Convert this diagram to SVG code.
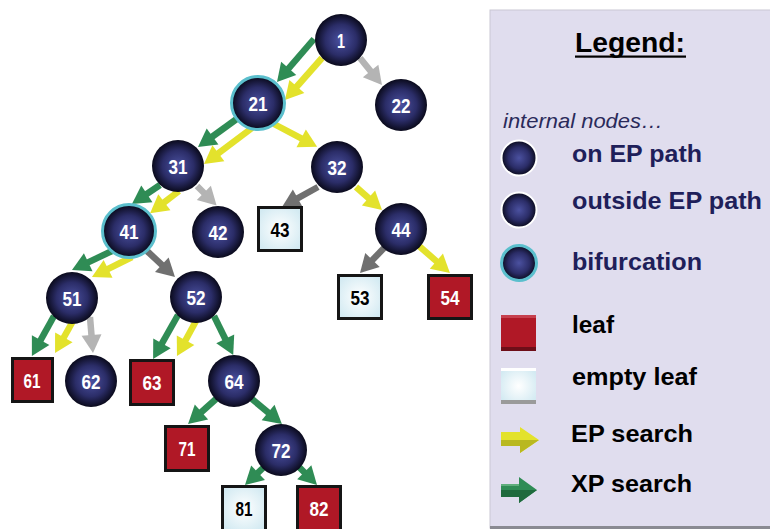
<svg xmlns="http://www.w3.org/2000/svg" width="770" height="529" viewBox="0 0 770 529">
<style>
.edge{fill:none;stroke-width:6.5;stroke-linecap:butt}
.g{stroke:#2f8c55;marker-end:url(#mg)}
.y{stroke:#e3e22c;marker-end:url(#my)}
.lg{stroke:#b4b4b4;marker-end:url(#ml)}
.dg{stroke:#707070;marker-end:url(#md)}
.node{fill:url(#ball)}
.ring{fill:none;stroke:#5bbfcd;stroke-width:3}
.leaf{fill:#b01826;stroke:#151515;stroke-width:3}
.empty{fill:url(#ice);stroke:#151515;stroke-width:3}
.lbl{font-family:"Liberation Sans Narrow","Liberation Sans",Arial,sans-serif;font-weight:bold;font-size:21px;text-anchor:middle}
.w{fill:#ffffff}
.k{fill:#000000}
.leg{font-family:"Liberation Sans",Arial,sans-serif;font-weight:bold;font-size:24px}
.navy{fill:#1f1f5a}
</style>
<defs>
<radialGradient id="ball" cx="50%" cy="50%" r="50%">
<stop offset="0" stop-color="#4b51a0"/>
<stop offset="0.6" stop-color="#2b2d68"/>
<stop offset="1" stop-color="#0a0a1c"/>
</radialGradient>
<radialGradient id="ice" cx="50%" cy="50%" r="60%">
<stop offset="0" stop-color="#ffffff"/>
<stop offset="1" stop-color="#d3eaf2"/>
</radialGradient>
<marker id="mg" markerUnits="userSpaceOnUse" markerWidth="20" markerHeight="22" refX="6" refY="10" orient="auto" overflow="visible"><path d="M0,0 L18,10 L0,20 z" fill="#2f8c55"/></marker>
<marker id="my" markerUnits="userSpaceOnUse" markerWidth="20" markerHeight="22" refX="6" refY="10" orient="auto" overflow="visible"><path d="M0,0 L18,10 L0,20 z" fill="#e3e22c"/></marker>
<marker id="ml" markerUnits="userSpaceOnUse" markerWidth="20" markerHeight="22" refX="6" refY="10" orient="auto" overflow="visible"><path d="M0,0 L18,10 L0,20 z" fill="#b4b4b4"/></marker>
<marker id="md" markerUnits="userSpaceOnUse" markerWidth="20" markerHeight="22" refX="6" refY="10" orient="auto" overflow="visible"><path d="M0,0 L18,10 L0,20 z" fill="#707070"/></marker>
</defs>
<rect x="0" y="0" width="770" height="529" fill="#ffffff"/>

<!-- Legend panel -->
<g id="legend">
<rect x="490" y="10" width="282" height="518" fill="#e0ddee" stroke="#c9c8d4" stroke-width="1"/>
<rect x="490" y="526" width="282" height="3" fill="#8a8a92"/>
<text x="630" y="52" font-family="Liberation Sans,Arial,sans-serif" font-weight="bold" font-size="28" text-anchor="middle" fill="#000" textLength="110" lengthAdjust="spacingAndGlyphs">Legend:</text>
<rect x="575" y="55.5" width="111" height="2.2" fill="#000"/>
<text x="503" y="128" font-family="Liberation Sans,Arial,sans-serif" font-style="italic" font-size="21" fill="#2a2a5a" textLength="160" lengthAdjust="spacingAndGlyphs">internal nodes…</text>
<circle cx="519" cy="158" r="17.5" fill="url(#ball)" stroke="#ffffff" stroke-width="2"/>
<text class="leg navy" x="572" y="162" textLength="130" lengthAdjust="spacingAndGlyphs">on EP path</text>
<circle cx="519" cy="210" r="17.5" fill="url(#ball)" stroke="#ffffff" stroke-width="2"/>
<text class="leg navy" x="572" y="209" textLength="190" lengthAdjust="spacingAndGlyphs">outside EP path</text>
<circle cx="519" cy="263" r="17.5" fill="url(#ball)" stroke="#5bbfcd" stroke-width="3"/>
<text class="leg navy" x="572" y="270" textLength="130" lengthAdjust="spacingAndGlyphs">bifurcation</text>
<rect x="501" y="315" width="35" height="36" fill="#b01826"/>
<rect x="501" y="315" width="35" height="3" fill="#c6404e"/>
<rect x="501" y="347" width="35" height="4" fill="#6e0e18"/>
<text class="leg k" x="572" y="333" textLength="42" lengthAdjust="spacingAndGlyphs">leaf</text>
<rect x="501" y="368" width="35" height="36" fill="url(#ice)"/>
<rect x="501" y="368" width="35" height="3" fill="#ffffff"/>
<rect x="501" y="400" width="35" height="4" fill="#9a9a9a"/>
<text class="leg k" x="572" y="385" textLength="125" lengthAdjust="spacingAndGlyphs">empty leaf</text>
<path d="M501,432 H520 V427 L539,440 L520,453 V446 H501 Z" fill="#e3e22c"/>
<path d="M501,440 H539 L520,453 V446 H501 Z" fill="#b9b820"/>
<text class="leg k" x="571" y="442" textLength="122" lengthAdjust="spacingAndGlyphs">EP search</text>
<path d="M501,484 H519 V477 L537,490 L519,503 V497 H501 Z" fill="#2f8c55"/>
<path d="M501,490 H537 L519,503 V497 H501 Z" fill="#1f6a3d"/>
<path d="M501,484 H519 V486 H501 Z" fill="#5fae7c"/>
<text class="leg k" x="571" y="492" textLength="121" lengthAdjust="spacingAndGlyphs">XP search</text>
</g>

<!-- Connectors -->
<g id="connectors">
<line class="edge g" x1="314" y1="39" x2="284.8" y2="72.9"/>
<line class="edge y" x1="322" y1="58" x2="292.9" y2="91"/>
<line class="edge lg" x1="360" y1="58" x2="374.4" y2="75.7"/>
<line class="edge g" x1="238" y1="118" x2="207.7" y2="140"/>
<line class="edge y" x1="252" y1="128" x2="213.6" y2="156.8"/>
<line class="edge y" x1="274" y1="124" x2="306.5" y2="141.2"/>
<line class="edge g" x1="160" y1="185" x2="141.9" y2="197.2"/>
<line class="edge y" x1="179" y1="191" x2="159.6" y2="205.9"/>
<line class="edge lg" x1="197" y1="186" x2="208.1" y2="197"/>
<line class="edge g" x1="112" y1="251" x2="82.8" y2="264.9"/>
<line class="edge y" x1="132" y1="257" x2="102.7" y2="271.6"/>
<line class="edge dg" x1="147" y1="251" x2="166.2" y2="268.9"/>
<line class="edge dg" x1="318" y1="187" x2="292.5" y2="201.2"/>
<line class="edge y" x1="356" y1="187" x2="373" y2="202"/>
<line class="edge dg" x1="384" y1="248" x2="368.3" y2="264.3"/>
<line class="edge y" x1="419" y1="246" x2="440.9" y2="265.1"/>
<line class="edge g" x1="54" y1="316" x2="37.7" y2="345.4"/>
<line class="edge y" x1="73" y1="321" x2="60.9" y2="342.6"/>
<line class="edge lg" x1="90" y1="317" x2="92" y2="341"/>
<line class="edge g" x1="178" y1="315" x2="159" y2="348.6"/>
<line class="edge y" x1="196" y1="321" x2="182.7" y2="345.5"/>
<line class="edge g" x1="214" y1="316" x2="227.9" y2="344.2"/>
<line class="edge g" x1="216" y1="399" x2="197" y2="416"/>
<line class="edge g" x1="252" y1="399" x2="272.7" y2="416.3"/>
<line class="edge g" x1="264" y1="467" x2="253.7" y2="476.8"/>
<line class="edge g" x1="299" y1="467" x2="308.5" y2="476.5"/>
</g>

<!-- Nodes -->
<g id="n1"><circle class="node" cx="341" cy="40" r="26"/><text class="lbl w" x="341" y="47.5" textLength="8" lengthAdjust="spacingAndGlyphs">1</text></g>
<g id="n21"><circle class="node" cx="258" cy="103" r="26"/><circle class="ring" cx="258" cy="103" r="26.5"/><text class="lbl w" x="258" y="110.5" textLength="19" lengthAdjust="spacingAndGlyphs">21</text></g>
<g id="n22"><circle class="node" cx="401" cy="105" r="26"/><text class="lbl w" x="401" y="112.5" textLength="19" lengthAdjust="spacingAndGlyphs">22</text></g>
<g id="n31"><circle class="node" cx="178" cy="166" r="26"/><text class="lbl w" x="178" y="173.5" textLength="19" lengthAdjust="spacingAndGlyphs">31</text></g>
<g id="n32"><circle class="node" cx="337" cy="167" r="26"/><text class="lbl w" x="337" y="174.5" textLength="19" lengthAdjust="spacingAndGlyphs">32</text></g>
<g id="n41"><circle class="node" cx="129" cy="231" r="26"/><circle class="ring" cx="129" cy="231" r="26.5"/><text class="lbl w" x="129" y="238.5" textLength="19" lengthAdjust="spacingAndGlyphs">41</text></g>
<g id="n42"><circle class="node" cx="218" cy="232" r="26"/><text class="lbl w" x="218" y="239.5" textLength="19" lengthAdjust="spacingAndGlyphs">42</text></g>
<g id="n43"><rect class="empty" x="258.5" y="207.5" width="43" height="43"/><text class="lbl k" x="280" y="236.5" textLength="19" lengthAdjust="spacingAndGlyphs">43</text></g>
<g id="n44"><circle class="node" cx="401" cy="229" r="26"/><text class="lbl w" x="401" y="236.5" textLength="19" lengthAdjust="spacingAndGlyphs">44</text></g>
<g id="n51"><circle class="node" cx="72" cy="298" r="26"/><text class="lbl w" x="72" y="305.5" textLength="19" lengthAdjust="spacingAndGlyphs">51</text></g>
<g id="n52"><circle class="node" cx="196" cy="297" r="26"/><text class="lbl w" x="196" y="304.5" textLength="19" lengthAdjust="spacingAndGlyphs">52</text></g>
<g id="n53"><rect class="empty" x="338.5" y="275.5" width="43" height="43"/><text class="lbl k" x="360" y="304.5" textLength="19" lengthAdjust="spacingAndGlyphs">53</text></g>
<g id="n54"><rect class="leaf" x="428.5" y="275.5" width="43" height="43"/><text class="lbl w" x="450" y="304.5" textLength="19" lengthAdjust="spacingAndGlyphs">54</text></g>
<g id="n61"><rect class="leaf" x="12.5" y="358.5" width="40" height="43"/><text class="lbl w" x="32" y="387.5" textLength="17" lengthAdjust="spacingAndGlyphs">61</text></g>
<g id="n62"><circle class="node" cx="91" cy="381" r="26"/><text class="lbl w" x="91" y="388.5" textLength="19" lengthAdjust="spacingAndGlyphs">62</text></g>
<g id="n63"><rect class="leaf" x="130.5" y="360.5" width="43" height="44"/><text class="lbl w" x="152" y="389.5" textLength="19" lengthAdjust="spacingAndGlyphs">63</text></g>
<g id="n64"><circle class="node" cx="234" cy="381" r="26"/><text class="lbl w" x="234" y="388.5" textLength="19" lengthAdjust="spacingAndGlyphs">64</text></g>
<g id="n71"><rect class="leaf" x="165.5" y="426.5" width="43" height="44"/><text class="lbl w" x="187" y="455.5" textLength="17" lengthAdjust="spacingAndGlyphs">71</text></g>
<g id="n72"><circle class="node" cx="281" cy="450" r="26"/><text class="lbl w" x="281" y="457.5" textLength="19" lengthAdjust="spacingAndGlyphs">72</text></g>
<g id="n81"><rect class="empty" x="222.5" y="486.5" width="43" height="44"/><text class="lbl k" x="244" y="515.5" textLength="17" lengthAdjust="spacingAndGlyphs">81</text></g>
<g id="n82"><rect class="leaf" x="297.5" y="486.5" width="43" height="44"/><text class="lbl w" x="319" y="515.5" textLength="19" lengthAdjust="spacingAndGlyphs">82</text></g>
</svg>
